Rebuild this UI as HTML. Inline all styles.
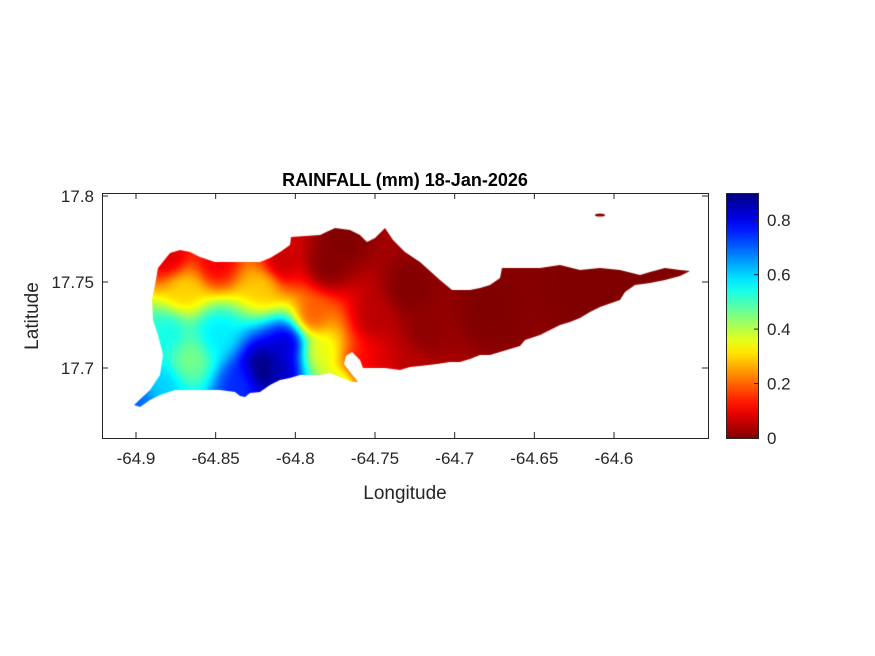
<!DOCTYPE html>
<html><head><meta charset="utf-8"><style>
body{margin:0;background:#fff;width:875px;height:656px;overflow:hidden;font-family:"Liberation Sans",sans-serif}
#wrap{position:relative;width:875px;height:656px}
canvas{position:absolute}
svg{position:absolute;left:0;top:0}
</style></head><body>
<div id="wrap">
<canvas id="map" width="606" height="245" style="left:102px;top:193px"></canvas>
<svg id="svg" width="875" height="656"></svg>
</div>
<script>
// ---- data ----
const stationLon = [-64.82, -64.805, -64.866, -64.885, -64.898, -64.85, -64.88, -64.87, -64.82, -64.88, -64.85, -64.81, -64.79, -64.785, -64.77, -64.76, -64.745, -64.78, -64.77, -64.75, -64.73, -64.72, -64.68, -64.62, -64.57, -64.835, -64.81, -64.73];
const stationLat = [17.700, 17.715, 17.706, 17.690, 17.680, 17.720, 17.720, 17.745, 17.748, 17.765, 17.762, 17.760, 17.730, 17.710, 17.690, 17.700, 17.700, 17.760, 17.775, 17.730, 17.745, 17.720, 17.735, 17.750, 17.755, 17.690, 17.700, 17.705];
const stationRain = [0.92, 0.85, 0.45, 0.60, 0.70, 0.58, 0.55, 0.30, 0.30, 0.08, 0.10, 0.05, 0.18, 0.35, 0.42, 0.10, 0.08, 0.00, 0.00, 0.05, 0.00, 0.01, 0.00, 0.00, 0.00, 0.75, 0.85, 0.05];
const xTicks = [-64.9, -64.85, -64.8, -64.75, -64.7, -64.65, -64.6];
const yTicks = [17.7, 17.75, 17.8];
const cTicks = [0, 0.2, 0.4, 0.6, 0.8];
const islandPx = [[134,405],[150,390],[160,375],[163,355],[158,335],[153,320],[152,300],[155,285],[158,268],[170,253],[180,250],[190,252],[200,257],[215,262],[240,262],[260,262],[270,258],[280,252],[290,245],[291,237],[320,235],[335,228],[350,230],[360,235],[367,242],[375,238],[385,228],[393,240],[405,252],[420,262],[440,280],[452,290],[470,290],[480,288],[490,285],[500,278],[502,268],[520,268],[540,268],[560,265],[580,270],[600,268],[620,270],[640,275],[650,272],[665,268],[680,270],[690,271],[680,276],[665,280],[650,283],[635,285],[625,292],[620,300],[600,307],[590,312],[580,318],[570,322],[560,325],[550,330],[540,335],[525,340],[520,346],[510,349],[500,352],[490,355],[480,355],[470,359],[460,362],[450,362],[437,364],[420,366],[410,367],[400,370],[385,368],[370,368],[363,368],[360,360],[352,352],[346,356],[344,364],[350,372],[358,382],[352,382],[340,377],[330,373],[320,375],[300,375],[290,378],[280,380],[270,385],[260,392],[250,393],[245,397],[240,396],[235,392],[220,390],[205,390],[190,390],[175,390],[160,395],[150,400],[140,407]];
// ---- axes ----
const AX={l:102,t:193,w:606,h:245};
const lon0=-64.9, pxPerLon=79.67/0.05, lat0=17.8, pxPerLat=86/0.05;
const xs=v=>136+(v-lon0)*pxPerLon;
const ys=v=>196+(lat0-v)*pxPerLat;
const lonOf=x=>lon0+(x-136)/pxPerLon;
const latOf=y=>lat0-(y-196)/pxPerLat;
const CMAX=0.9;
// reversed jet: 0 -> dark red, 1 -> dark blue
function cmap(v){v=1-Math.max(0,Math.min(1,v));
 const f=t=>Math.max(0,Math.min(1,1.5-Math.abs(4*v-t)));
 return [f(3)*255,f(2)*255,f(1)*255];}
// heatmap via smoothed IDW
const cv=document.getElementById('map'),ctx=cv.getContext('2d');
const img=ctx.createImageData(AX.w,AX.h);
const EPS=0.010*0.010;
for(let j=0;j<AX.h;j++){for(let i=0;i<AX.w;i++){
 const lo=lonOf(AX.l+i),la=latOf(AX.t+j);let sw=0,sv=0;
 for(let k=0;k<stationLon.length;k++){const dx=(lo-stationLon[k])*1.05,dy=la-stationLat[k];const d2=dx*dx+dy*dy+EPS;const w=1/Math.pow(d2,2);sw+=w;sv+=w*stationRain[k];}
 const c=cmap(sv/sw/CMAX);const p=(j*AX.w+i)*4;img.data[p]=c[0];img.data[p+1]=c[1];img.data[p+2]=c[2];img.data[p+3]=255;}}
const tmp=document.createElement('canvas');tmp.width=AX.w;tmp.height=AX.h;tmp.getContext('2d').putImageData(img,0,0);
ctx.beginPath();islandPx.forEach((p,i)=>{const x=p[0]-AX.l,y=p[1]-AX.t;i?ctx.lineTo(x,y):ctx.moveTo(x,y);});ctx.closePath();
ctx.save();ctx.clip();ctx.drawImage(tmp,0,0);ctx.restore();
ctx.fillStyle='#800000';ctx.beginPath();ctx.ellipse(600-AX.l,215-AX.t,5,1.6,0,0,7);ctx.fill();
// ---- svg ----
const NS='http://www.w3.org/2000/svg',svg=document.getElementById('svg');
function mk(t,a,txt){const e=document.createElementNS(NS,t);for(const k in a)e.setAttribute(k,a[k]);if(txt!==undefined)e.textContent=txt;svg.appendChild(e);return e;}
let e=mk('rect',{x:AX.l+.5,y:AX.t+.5,width:AX.w,height:AX.h,fill:'none',stroke:'#262626','stroke-width':1});

xTicks.forEach(v=>{const x=xs(v);
 e=mk('path',{d:`M${x} ${AX.t+AX.h}v-6M${x} ${AX.t}v6`,stroke:'#262626'});
 
 e=mk('text',{x:x,y:AX.t+AX.h+26,'text-anchor':'middle','font-size':17,fill:'#262626'},String(v));
 });
yTicks.forEach(v=>{const y=ys(v);
 e=mk('path',{d:`M${AX.l} ${y}h6M${AX.l+AX.w} ${y}h-6`,stroke:'#262626'});
 
 e=mk('text',{x:AX.l-8,y:y+6,'text-anchor':'end','font-size':17,fill:'#262626'},String(v));
 });
e=mk('text',{x:405,y:499,'text-anchor':'middle','font-size':19,fill:'#262626'},'Longitude');

e=mk('text',{x:0,y:0,transform:'translate(38,316) rotate(-90)','text-anchor':'middle','font-size':19,fill:'#262626'},'Latitude');

e=mk('text',{x:405,y:186,'text-anchor':'middle','font-size':18,'font-weight':'bold',fill:'#000'},'RAINFALL (mm) 18-Jan-2026');

// colorbar
const defs=mk('defs',{});const g=document.createElementNS(NS,'linearGradient');g.setAttribute('id','jet');g.setAttribute('x1',0);g.setAttribute('y1',1);g.setAttribute('x2',0);g.setAttribute('y2',0);defs.appendChild(g);
for(let s=0;s<=20;s++){const c=cmap(s/20);const st=document.createElementNS(NS,'stop');st.setAttribute('offset',s/20);st.setAttribute('stop-color',`rgb(${c.map(Math.round)})`);g.appendChild(st);}
const CB={x:726,y:193,w:32,h:245};const cy=v=>CB.y+CB.h-v/CMAX*CB.h;
e=mk('rect',{x:CB.x+.5,y:CB.y+.5,width:CB.w,height:CB.h,fill:'url(#jet)',stroke:'#262626'});

cTicks.forEach(v=>{const y=cy(v);
 e=mk('path',{d:`M${CB.x+CB.w} ${y}h-4`,stroke:'#262626'});
 
 e=mk('text',{x:CB.x+CB.w+9,y:y+6,'font-size':17,fill:'#262626'},String(v));
 });
</script>
</body></html>
